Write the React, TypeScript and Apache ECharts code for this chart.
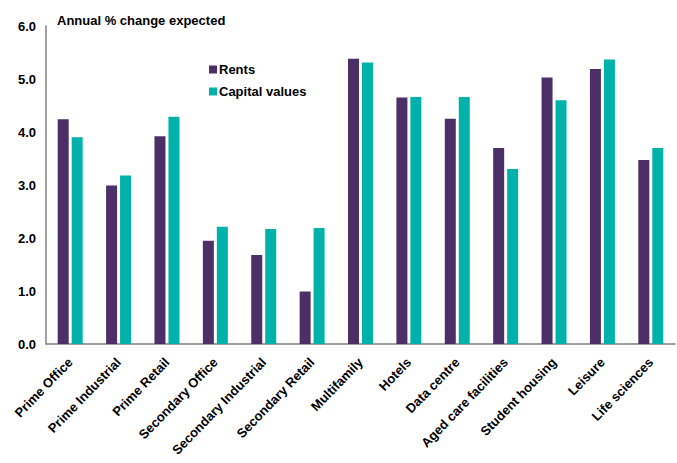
import React, { useEffect, useRef } from "react";
import * as echarts from "echarts";

const categories = [
  "Prime Office",
  "Prime Industrial",
  "Prime Retail",
  "Secondary Office",
  "Secondary Industrial",
  "Secondary Retail",
  "Multifamily",
  "Hotels",
  "Data centre",
  "Aged care facilities",
  "Student housing",
  "Leisure",
  "Life sciences",
];
const rents = [4.24, 2.99, 3.92, 1.95, 1.68, 0.99, 5.38, 4.65, 4.25, 3.7, 5.03, 5.19, 3.47];
const capitalValues = [3.9, 3.18, 4.29, 2.21, 2.17, 2.19, 5.31, 4.66, 4.66, 3.3, 4.6, 5.37, 3.7];
const yTicks = [0, 1, 2, 3, 4, 5, 6];

const FONT = "'Liberation Sans', Arial, sans-serif";

export default function App() {
  const ref = useRef<HTMLDivElement>(null);
  useEffect(() => {
    if (!ref.current) return;
    const chart = echarts.init(ref.current, undefined, { renderer: "svg" });
    chart.setOption({
      animation: false,
      backgroundColor: "#ffffff",
      textStyle: { fontFamily: FONT },
      title: {
        text: "Annual % change expected",
        left: 52,
        top: 9,
        textStyle: { fontFamily: FONT, fontSize: 13, fontWeight: "bold", color: "#000" },
      },
      legend: {
        orient: "vertical",
        left: 204,
        top: 58,
        itemWidth: 8,
        itemHeight: 8,
        itemGap: 9,
        icon: "rect",
        textStyle: { fontFamily: FONT, fontSize: 13, fontWeight: "bold", color: "#000", padding: [0, 0, 0, -3] },
        data: ["Rents", "Capital values"],
      },
      grid: { left: 46, right: 2, top: 26, bottom: 119, containLabel: false },
      xAxis: {
        type: "category",
        data: categories,
        axisLine: { lineStyle: { color: "#808080", width: 1.5 } },
        axisTick: { show: false },
        axisLabel: {
          interval: 0,
          rotate: 46,
          fontFamily: FONT,
          fontSize: 13,
          fontWeight: "bold",
          color: "#000",
          margin: 16,
        },
      },
      yAxis: {
        type: "value",
        min: yTicks[0],
        max: yTicks[yTicks.length - 1],
        interval: 1,
        splitLine: { show: false },
        axisLine: { show: true, lineStyle: { color: "#808080", width: 1.5 } },
        axisTick: { show: false },
        axisLabel: {
          fontFamily: FONT,
          fontSize: 13,
          fontWeight: "bold",
          color: "#000",
          margin: 10,
          formatter: (v: number) => v.toFixed(1),
        },
      },
      series: [
        {
          name: "Rents",
          type: "bar",
          data: rents,
          barWidth: 11,
          barGap: "27%",
          itemStyle: { color: "#4d2f68" },
        },
        {
          name: "Capital values",
          type: "bar",
          data: capitalValues,
          barWidth: 11,
          itemStyle: { color: "#00b2a9" },
        },
      ],
    });
    return () => chart.dispose();
  }, []);
  return <div ref={ref} style={{ width: 677, height: 463, position: "absolute", left: 0, top: 0 }} />;
}
